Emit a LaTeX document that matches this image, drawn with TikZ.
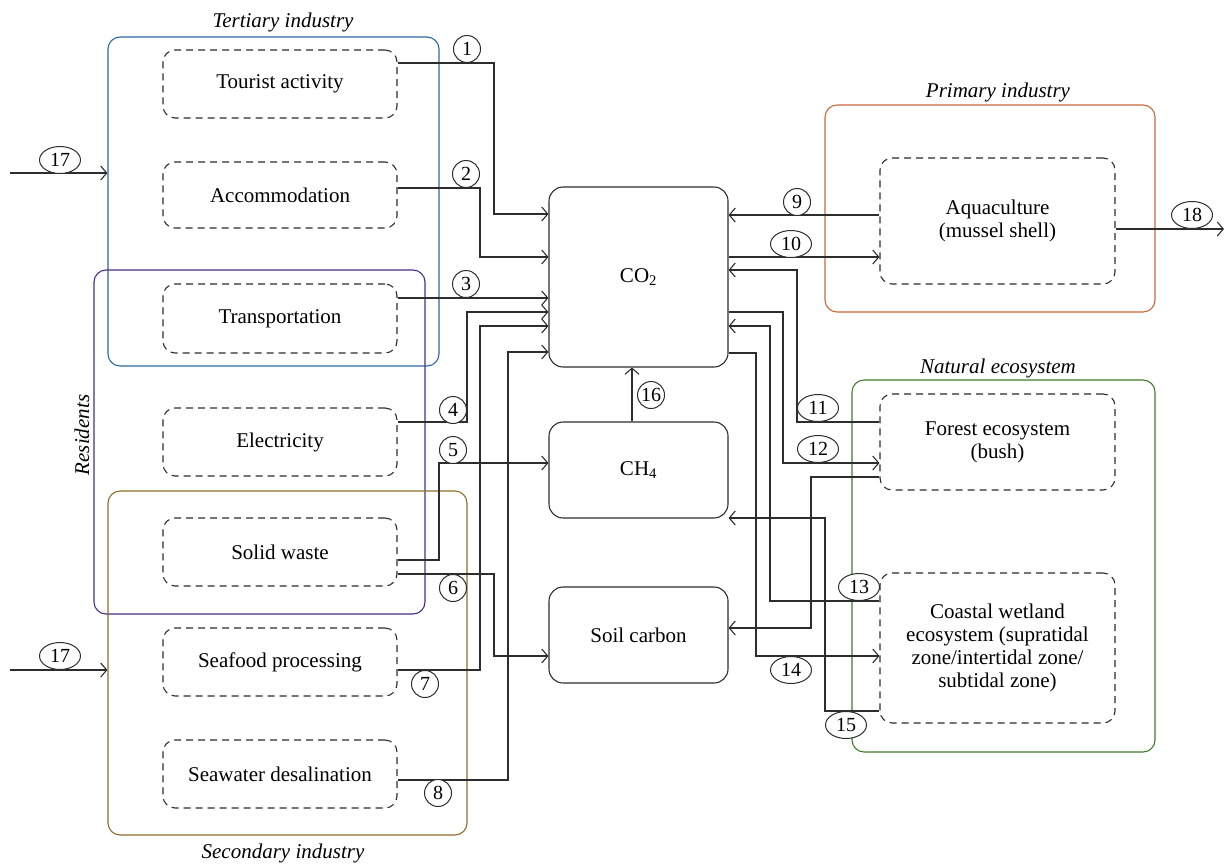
\documentclass[tikz,border=0pt]{standalone}
\usepackage{fontspec}
\setmainfont{Liberation Serif}
\usetikzlibrary{arrows.meta,shapes.geometric}
\definecolor{tertc}{RGB}{45,105,160}
\definecolor{resc}{RGB}{75,45,135}
\definecolor{secc}{RGB}{140,110,40}
\definecolor{primc}{RGB}{200,105,55}
\definecolor{natc}{RGB}{65,125,45}
\definecolor{ink}{RGB}{45,45,45}
\tikzset{
  group/.style={draw, rounded corners=12pt, line width=1.1pt, inner sep=0pt},
  unit/.style={draw=ink, dash pattern=on 7pt off 5pt, rounded corners=12pt, line width=1.1pt,
    minimum width=234pt, minimum height=68pt, inner sep=0pt, align=center, font=\fontsize{21}{23}\selectfont},
  pool/.style={draw=ink, rounded corners=14pt, line width=1.1pt, minimum width=179pt,
    minimum height=96pt, inner sep=0pt, font=\fontsize{21}{23}\selectfont},
  flow/.style={draw=ink, line width=1.1pt, -{Straight Barb[length=6pt,width=14pt,line width=1.1pt]}},
  num/.style={draw=ink, circle, line width=1pt, minimum size=27pt, inner sep=0pt, fill=white,
    font=\fontsize{20}{20}\selectfont},
  num2/.style={draw=ink, ellipse, line width=1pt, minimum width=41pt, minimum height=27pt, inner sep=0pt,
    fill=white, font=\fontsize{20}{20}\selectfont},
  title/.style={font=\fontsize{21}{22}\selectfont\itshape}
}
\begin{document}
\begin{tikzpicture}[x=1pt,y=-1pt]
\useasboundingbox (0,0) rectangle (1226,865);

% sector boundaries
\node[group, draw=tertc, minimum width=331pt, minimum height=329pt] (tert) at (273.5,201.5) {};
\node[group, draw=resc, minimum width=331pt, minimum height=344pt] (res) at (259.5,442) {};
\node[group, draw=secc, minimum width=359pt, minimum height=344pt] (sec) at (287.5,663) {};
\node[group, draw=primc, minimum width=330pt, minimum height=207pt] (prim) at (990,208.5) {};
\node[group, draw=natc, minimum width=303pt, minimum height=372pt] (nat) at (1003.5,566) {};

\node[title] (terttitle) at (283,22) {Tertiary industry};
\node[title] (sectitle) at (283,853) {Secondary industry};
\node[title] (primtitle) at (998,92) {Primary industry};
\node[title] (nattitle) at (998,368) {Natural ecosystem};
\node[title, rotate=90] (restitle) at (82,435) {Residents};

% activities
\node[unit] (tour) at (280,84) {Tourist activity};
\node[unit, minimum height=66pt] (acc) at (280,195) {Accommodation};
\node[unit, minimum height=69pt] (trans) at (280,318.5) {Transportation};
\node[unit] (elec) at (280,442) {Electricity};
\node[unit] (waste) at (280,552) {Solid waste};
\node[unit] (food) at (280,662) {Seafood processing};
\node[unit] (desal) at (280,774) {Seawater desalination};

\node[unit, minimum width=235pt, minimum height=126pt] (aqua) at (997.5,221) {Aquaculture\\(mussel shell)};
\node[unit, minimum width=235pt, minimum height=96pt] (forest) at (997.5,442) {Forest ecosystem\\(bush)};
\node[unit, minimum width=235pt, minimum height=150pt] (coast) at (997.5,648)
  {Coastal wetland\\ecosystem (supratidal\\zone/intertidal zone/\\subtidal zone)};

% carbon pools
\node[pool, minimum height=180pt] (co2) at (638.5,277) {CO\textsubscript{2}};
\node[pool] (ch4) at (638.5,470) {CH\textsubscript{4}};
\node[pool] (soil) at (638.5,635) {Soil carbon};

% outside inputs and output
\coordinate (inA) at (10,173);
\coordinate (inB) at (10,670);
\coordinate (out) at (1224,229);

% flows from the human activities
\draw[flow] ([yshift=21pt]tour.east) -| (494,214) -- ([yshift=63pt]co2.west);
\draw[flow] ([yshift=7pt]acc.east) -| (480,257) -- ([yshift=20pt]co2.west);
\draw[flow] ([yshift=20.5pt]trans.east) -- ([yshift=-21pt]co2.west);
\draw[flow] ([yshift=20pt]elec.east) -| (467,312) -- ([yshift=-35pt]co2.west);
\draw[flow] ([yshift=-8pt]food.east) -| (480,326) -- ([yshift=-49pt]co2.west);
\draw[flow] ([yshift=-6pt]desal.east) -| (508,352) -- ([yshift=-75pt]co2.west);
\draw[flow] ([yshift=-8pt]waste.east) -| (439,463) -- ([yshift=7pt]ch4.west);
\draw[flow] ([yshift=-22pt]waste.east) -| (494,656) -- ([yshift=-21pt]soil.west);
\draw[flow] ([xshift=-6.5pt]ch4.north) -- ([xshift=-6.5pt]co2.south);

% exchanges with aquaculture and ecosystems
\draw[flow] ([yshift=6pt]aqua.west) -- ([yshift=62pt]co2.east);
\draw[flow] ([yshift=20pt]co2.east) -- ([yshift=-36pt]aqua.west);
\draw[flow] ([yshift=20pt]forest.west) -| (797,270) -- ([yshift=7pt]co2.east);
\draw[flow] ([yshift=-35pt]co2.east) -| (783,463) -- ([yshift=-21pt]forest.west);
\draw[flow] ([yshift=47pt]coast.west) -| (770,326) -- ([yshift=-49pt]co2.east);
\draw[flow] ([yshift=-76pt]co2.east) -| (756,656) -- ([yshift=-8pt]coast.west);
\draw[flow] ([yshift=-35pt]forest.west) -| (811,628) -- ([yshift=7pt]soil.east);
\draw[flow] ([yshift=-63pt]coast.west) -| (825,518) -- ([yshift=-48pt]ch4.east);

\draw[flow] (inA) -- ([yshift=28.5pt]tert.west);
\draw[flow] (inB) -- ([yshift=-7pt]sec.west);
\draw[flow] ([yshift=-8pt]aqua.east) -- (out);

% flow numbers
\node[num] (n1) at (467,49) {1};
\node[num] (n2) at (466,174) {2};
\node[num] (n3) at (466,284) {3};
\node[num] (n4) at (453,410) {4};
\node[num] (n5) at (453,450) {5};
\node[num] (n6) at (453,588) {6};
\node[num] (n7) at (425,684) {7};
\node[num] (n8) at (438,793) {8};
\node[num] (n9) at (797,202) {9};
\node[num2] (n10) at (791,244) {10};
\node[num2] (n11) at (818,408) {11};
\node[num2] (n12) at (818,449) {12};
\node[num2] (n13) at (859,587) {13};
\node[num2] (n14) at (791,670) {14};
\node[num2] (n15) at (846,725) {15};
\node[num] (n16) at (651,395) {16};
\node[num2] (n17a) at (60,160) {17};
\node[num2] (n17b) at (60,656) {17};
\node[num2] (n18) at (1192,215) {18};
\end{tikzpicture}
\end{document}
